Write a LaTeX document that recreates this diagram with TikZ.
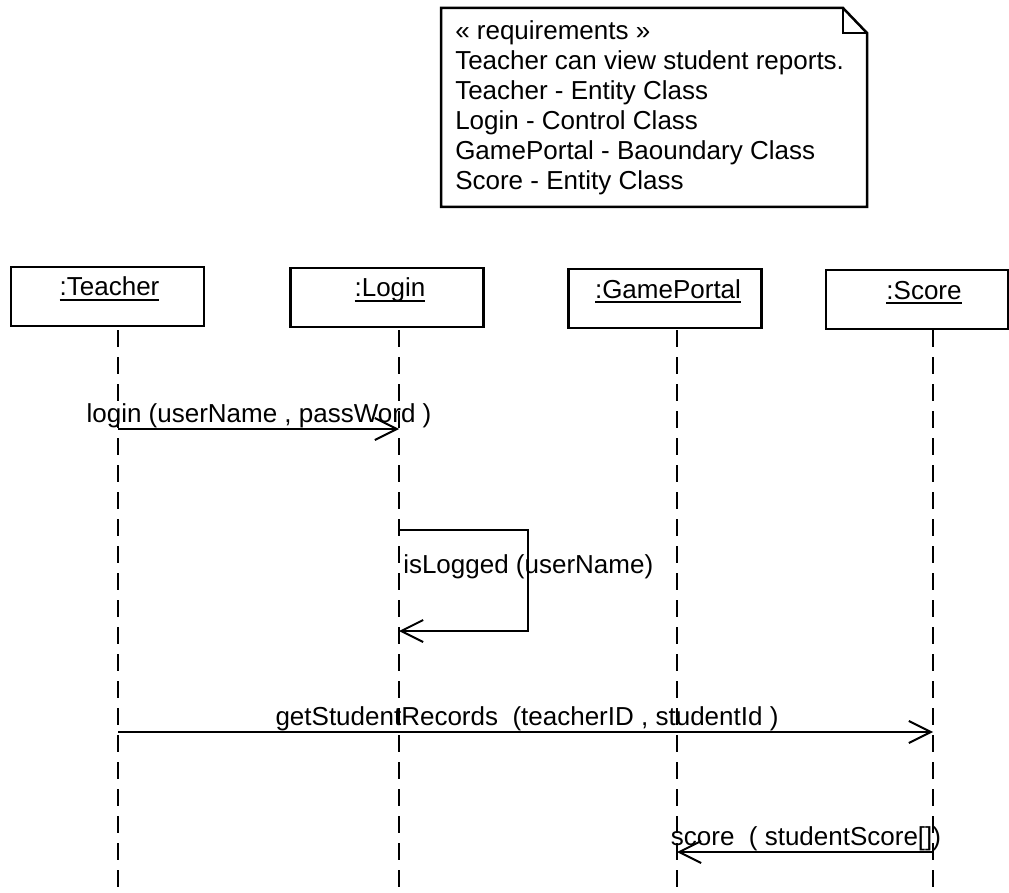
\documentclass[tikz,border=0pt]{standalone}
\usepackage{fontspec}
\setmainfont{Liberation Sans}
\usetikzlibrary{arrows.meta}
\newlength{\du}
\setlength{\du}{10\unitlength}
\newcommand{\objname}[1]{\setbox0\hbox{#1}\rlap{\rule[-5pt]{\wd0}{1.8pt}}\box0}
\tikzset{
  objbox/.style={draw, rectangle, line width=0.25\du, minimum width=19.3\du, minimum height=5.9\du, inner sep=0pt},
  objlabel/.style={anchor=base, inner sep=0pt, font=\fontsize{26}{30}\selectfont},
  lifeline/.style={line width=0.25\du, dash pattern=on 1.7\du off 1.0\du},
  msgline/.style={line width=0.2\du, -{Straight Barb[length=22pt, width=22pt]}},
  msglabel/.style={anchor=base, inner sep=0pt, font=\fontsize{26}{30}\selectfont},
  notetext/.style={anchor=north west, inner sep=0pt, align=left, font=\fontsize{26}{30}\selectfont},
}
\begin{document}
\begin{tikzpicture}
\pgftransformxscale{1.000000}
\pgftransformyscale{-1.000000}
\definecolor{dialinecolor}{rgb}{0.000000, 0.000000, 0.000000}
\pgfsetstrokecolor{dialinecolor}
\definecolor{dialinecolor}{rgb}{1.000000, 1.000000, 1.000000}
\pgfsetfillcolor{dialinecolor}
\fill (0.000000\du,0.000000\du) rectangle (100.900000\du,89.300000\du);
\useasboundingbox (0.000000\du,0.000000\du) rectangle (100.900000\du,89.300000\du);
\definecolor{dialinecolor}{rgb}{0.000000, 0.000000, 0.000000}
\pgfsetstrokecolor{dialinecolor}
\pgfsetfillcolor{dialinecolor}
% the note
\pgfsetlinewidth{0.250000\du}
\pgfsetdash{}{0pt}
\pgfsetbuttcap
{
\draw (44.100000\du,0.800000\du)--(84.300000\du,0.800000\du)--(86.700000\du,3.300000\du)--(86.700000\du,20.700000\du)--(44.100000\du,20.700000\du)--cycle;
\draw (84.300000\du,0.800000\du)--(84.300000\du,3.300000\du)--(86.700000\du,3.300000\du);
}
% setfont left to latex
\node[notetext] (reqtext) at (45.400000\du,1.940000\du){« requirements »\\
Teacher can view student reports.\\
Teacher - Entity Class\\
Login - Control Class\\
GamePortal - Baoundary Class\\
Score - Entity Class};
% objects
\node[objbox] (teacherbox) at (10.750000\du,29.650000\du){};
\node[objbox] (loginbox) at (38.700000\du,29.750000\du){};
\node[objbox] (portalbox) at (66.500000\du,29.850000\du){};
\node[objbox, minimum width=18.200000\du] (scorebox) at (91.700000\du,29.950000\du){};
% setfont left to latex
\node[objlabel] (teacherlbl) at (10.950000\du,29.600000\du){\objname{:Teacher}};
\node[objlabel] (loginlbl) at (39.000000\du,29.700000\du){\objname{:Login}};
\node[objlabel] (portallbl) at (66.800000\du,29.800000\du){\objname{:GamePortal}};
\node[objlabel] (scorelbl) at (92.400000\du,29.900000\du){\objname{:Score}};
% lifelines
\coordinate (teachertop) at (11.800000\du,33.000000\du);
\coordinate (teacherend) at (11.800000\du,89.300000\du);
\coordinate (logintop) at (39.900000\du,33.000000\du);
\coordinate (loginend) at (39.900000\du,89.300000\du);
\coordinate (portaltop) at (67.700000\du,33.000000\du);
\coordinate (portalend) at (67.700000\du,89.300000\du);
\coordinate (scoretop) at (93.300000\du,33.000000\du);
\coordinate (scoreend) at (93.300000\du,89.300000\du);
\draw[lifeline] (teachertop)--(teacherend);
\draw[lifeline] (logintop)--(loginend);
\draw[lifeline] (portaltop)--(portalend);
\draw[lifeline] (scoretop)--(scoreend);
% messages
\coordinate (loginsend) at (11.800000\du,42.900000\du);
\coordinate (loginrecv) at (39.900000\du,42.900000\du);
\draw[msgline] (loginsend)--(loginrecv);
% setfont left to latex
\node[msglabel] (loginmsg) at (25.900000\du,42.200000\du){login (userName , passWord )};
\coordinate (selfsend) at (39.900000\du,53.000000\du);
\coordinate (selfturn) at (52.800000\du,53.000000\du);
\coordinate (selfback) at (52.800000\du,63.100000\du);
\coordinate (selfrecv) at (39.900000\du,63.100000\du);
\draw[msgline] (selfsend)--(selfturn)--(selfback)--(selfrecv);
% setfont left to latex
\node[msglabel, anchor=base west] (selfmsg) at (40.200000\du,57.300000\du){isLogged (userName)};
\coordinate (recsend) at (11.800000\du,73.200000\du);
\coordinate (recrecv) at (93.300000\du,73.200000\du);
\draw[msgline] (recsend)--(recrecv);
% setfont left to latex
\node[msglabel] (recmsg) at (52.700000\du,72.500000\du){getStudentRecords\ \ (teacherID , studentId )};
\coordinate (scoresend) at (93.300000\du,85.200000\du);
\coordinate (scorerecv) at (67.700000\du,85.200000\du);
\draw[msgline] (scoresend)--(scorerecv);
% setfont left to latex
\node[msglabel] (scoremsg) at (80.600000\du,84.500000\du){score\ \ ( studentScore[])};
\end{tikzpicture}
\end{document}
